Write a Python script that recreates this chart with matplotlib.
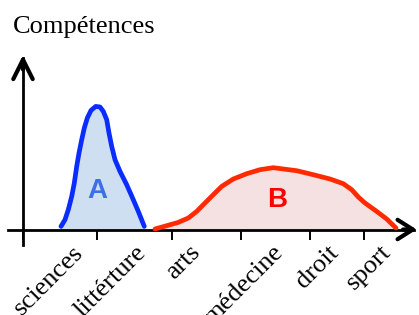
import matplotlib
matplotlib.use('Agg')
import matplotlib.pyplot as plt

# categories shown under the horizontal axis
categories = ['sciences', 'littérture', 'arts', 'médecine', 'droit', 'sport']
label_x = [5.7, 12.0, 17.4, 25.7, 31.2, 36.5]
tick_x = [0, 7.43, 14.87, 21.77, 28.7, 34.1]

# curve A (blue)
a_x = [3.80, 4.20, 4.53, 4.87, 5.13, 5.37, 5.60, 5.87, 6.13, 6.43, 6.80, 7.27,
       7.70, 8.03, 8.37, 8.60, 8.87, 9.20, 9.70, 10.37, 11.03, 11.53, 12.13]
a_y = [0.31, 0.98, 1.98, 3.31, 4.65, 6.31, 7.65, 8.98, 10.15, 11.15, 11.91, 12.31,
       12.25, 11.81, 10.98, 9.65, 8.31, 6.98, 5.81, 4.48, 2.98, 1.81, 0.31]

# curve B (red)
b_x = [13.20, 14.37, 15.53, 16.53, 17.37, 18.20, 19.03, 19.87, 21.03, 22.37, 23.70,
       25.03, 26.03, 27.37, 29.03, 30.70, 32.03, 32.87, 33.53, 34.20, 35.37, 36.37, 37.30]
b_y = [0.05, 0.38, 0.71, 1.15, 1.81, 2.65, 3.48, 4.31, 5.05, 5.58, 5.98,
       6.18, 6.05, 5.88, 5.48, 5.05, 4.58, 3.98, 3.25, 2.65, 1.81, 1.05, 0.15]

fig = plt.figure(figsize=(4.19, 3.15), dpi=100)
ax = fig.add_axes([0, 0, 1, 1])
ax.set_xlim(-2.3, 39.6)
ax.set_ylim(-8.55, 22.95)

ax.fill_between(a_x, a_y, 0, color='#cddff0', lw=0, zorder=1)
ax.plot(a_x, a_y, color='#0a2cff', lw=3.4, solid_capstyle='round',
        solid_joinstyle='round', zorder=3)
ax.fill_between(b_x, b_y, 0, color='#f5e1e1', lw=0, zorder=1)
ax.plot(b_x, b_y, color='#ff2a00', lw=3.4, solid_capstyle='round',
        solid_joinstyle='round', zorder=3)

ax.text(7.4, 3.85, 'A', color='#3d6fe8', fontsize=20, fontweight='bold',
        family='Liberation Sans', ha='center', va='center')
ax.text(25.4, 2.95, 'B', color='#ff0000', fontsize=20, fontweight='bold',
        family='Liberation Sans', ha='center', va='center')

# axes with arrows
for s in ['top', 'right']:
    ax.spines[s].set_visible(False)
ax.spines['left'].set_position(('data', 0))
ax.spines['bottom'].set_position(('data', 0))
ax.spines['left'].set_bounds(-1.55, 17.2)
ax.spines['bottom'].set_bounds(-1.5, 39.1)
ax.spines['left'].set_linewidth(2)
ax.spines['bottom'].set_linewidth(2)
ax.annotate('', xy=(0, 17.45), xytext=(0, 16.0),
            arrowprops=dict(arrowstyle='->,head_length=1.4,head_width=0.7', lw=3,
                            color='black', shrinkA=0, shrinkB=0))
ax.annotate('', xy=(39.37, 0), xytext=(38.0, 0),
            arrowprops=dict(arrowstyle='->,head_length=1.1,head_width=0.7', lw=3,
                            color='black', shrinkA=0, shrinkB=0))

ax.set_yticks([])
ax.set_xticks(tick_x)
ax.set_xticklabels([])
ax.tick_params(axis='x', which='major', direction='out', length=7.5, width=1.4)
ax.set_xticks(label_x, minor=True)
ax.set_xticklabels(categories, minor=True, rotation=45, ha='right', va='center',
                   rotation_mode='anchor', family='Liberation Serif', fontsize=19)
ax.tick_params(axis='x', which='minor', length=0, pad=14)

ax.text(-1.0, 19.65, 'Compétences', family='Liberation Serif', fontsize=19,
        ha='left', va='baseline')

plt.savefig('out.png', dpi=100)
